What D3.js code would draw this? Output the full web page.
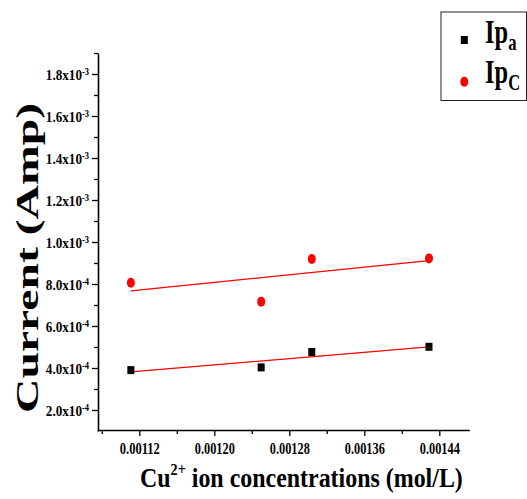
<!DOCTYPE html>
<html><head><meta charset="utf-8">
<script src="https://cdn.jsdelivr.net/npm/d3@7"></script>
<style>html,body{margin:0;padding:0;background:#fff;}svg{display:block;}</style>
</head><body>
<svg id="chart" width="527" height="499"></svg>
<script>
// ---- data ----
const concentrations = [0.001111, 0.00125, 0.001304, 0.001429];
const ipa = [3.90e-4, 4.03e-4, 4.76e-4, 5.01e-4];
const ipc = [8.06e-4, 7.16e-4, 9.19e-4, 9.22e-4];
const xTickValues = [0.00112, 0.00120, 0.00128, 0.00136, 0.00144];
const xTickLabels = ["0.00112", "0.00120", "0.00128", "0.00136", "0.00144"];
const xMinorValues = [0.00108, 0.00116, 0.00124, 0.00132, 0.00140];
const yTickValues = [2e-4, 4e-4, 6e-4, 8e-4, 1.0e-3, 1.2e-3, 1.4e-3, 1.6e-3, 1.8e-3];
const yTickMantissa = ["2.0", "4.0", "6.0", "8.0", "1.0", "1.2", "1.4", "1.6", "1.8"];
const yTickExponent = ["-4", "-4", "-4", "-4", "-3", "-3", "-3", "-3", "-3"];
const yMinorValues = [3e-4, 5e-4, 7e-4, 9e-4, 1.1e-3, 1.3e-3, 1.5e-3, 1.7e-3, 1.9e-3];
const seriesNames = [{main: "Ip", sub: "a"}, {main: "Ip", sub: "C"}];

const svg = d3.select("#chart");
const font = "'Liberation Serif','Times New Roman',serif";

const x = d3.scaleLinear().domain([0.001075, 0.001472]).range([97.1, 469.3]);
const y = d3.scaleLinear().domain([1e-4, 1.9e-3]).range([431, 53]);
const axisX = 98, axisY = 430;

// minor ticks
svg.append("g").attr("transform", `translate(0,${axisY})`)
  .call(d3.axisBottom(x).tickValues(xMinorValues).tickSize(4).tickFormat(""))
  .call(g => g.select(".domain").remove())
  .selectAll("line").attr("stroke", "#000").attr("stroke-width", 1.3);
svg.append("g").attr("transform", `translate(${axisX},0)`)
  .call(d3.axisLeft(y).tickValues(yMinorValues).tickSize(4).tickFormat(""))
  .call(g => g.select(".domain").remove())
  .selectAll("line").attr("stroke", "#000").attr("stroke-width", 1.3);

// x axis
const gx = svg.append("g").attr("transform", `translate(0,${axisY})`)
  .call(d3.axisBottom(x).tickValues(xTickValues).tickSize(6).tickSizeOuter(0).tickPadding(6)
    .tickFormat((d, i) => xTickLabels[i]));
gx.select(".domain").attr("stroke", "#000").attr("stroke-width", 1.6);
gx.selectAll(".tick line").attr("stroke", "#000").attr("stroke-width", 1.3);
gx.selectAll(".tick text").attr("fill", "#000")
  .attr("font-family", font).attr("font-weight", "bold").attr("font-size", 17)
  .attr("textLength", 40).attr("lengthAdjust", "spacingAndGlyphs");

// y axis
const gy = svg.append("g").attr("transform", `translate(${axisX},0)`)
  .call(d3.axisLeft(y).tickValues(yTickValues).tickSize(6).tickSizeOuter(0).tickPadding(3)
    .tickFormat(""));
gy.select(".domain").attr("stroke", "#000").attr("stroke-width", 1.6);
gy.selectAll(".tick line").attr("stroke", "#000").attr("stroke-width", 1.3);
gy.selectAll(".tick text").each(function(d, i) {
  const t = d3.select(this).attr("fill", "#000").attr("font-family", font)
    .attr("font-weight", "bold").attr("font-size", 15.5).attr("dy", "0.35em")
    .attr("x", -10.5).attr("transform", "scale(0.85,1)");
  t.text(null);
  t.append("tspan").text(yTickMantissa[i] + "x10");
  t.append("tspan").attr("font-size", 10).attr("dy", -5).text(yTickExponent[i]);
});

// fit lines (least squares)
function fit(xs, ys) {
  const mx = d3.mean(xs), my = d3.mean(ys);
  const sxy = d3.sum(xs, (v, i) => (v - mx) * (ys[i] - my));
  const sxx = d3.sum(xs, v => (v - mx) * (v - mx));
  const b = sxy / sxx, a = my - b * mx;
  const x0 = d3.min(xs), x1 = d3.max(xs);
  return [[x0, a + b * x0], [x1, a + b * x1]];
}
const line = d3.line().x(d => x(d[0])).y(d => y(d[1]));
[ipc, ipa].forEach(s => {
  svg.append("path").attr("d", line(fit(concentrations, s)))
    .attr("fill", "none").attr("stroke", "#ff0000").attr("stroke-width", 1.3);
});

// markers
svg.append("g").selectAll("rect").data(concentrations).join("rect")
  .attr("x", d => x(d) - 3.5).attr("y", (d, i) => y(ipa[i]) - 4)
  .attr("width", 7).attr("height", 8).attr("fill", "#000");
svg.append("g").selectAll("ellipse").data(concentrations).join("ellipse")
  .attr("cx", d => x(d)).attr("cy", (d, i) => y(ipc[i]))
  .attr("rx", 4).attr("ry", 5).attr("fill", "#ff0000");

// helper to squeeze text horizontally
function squeeze(t, px, py, sx) {
  t.attr("transform", `translate(${px},${py}) scale(${sx},1)`);
}

// x title
const xt = svg.append("text").attr("font-family", font).attr("font-weight", "bold")
  .attr("font-size", 27).attr("fill", "#000");
xt.append("tspan").text("Cu");
xt.append("tspan").attr("font-size", 16).attr("dy", -12).text("2+");
xt.append("tspan").attr("dy", 12).text(" ion concentrations (mol/L)");
const xtw = xt.node().getComputedTextLength();
squeeze(xt, 140, 487, 323 / xtw);

// y title
svg.append("text").attr("font-family", font).attr("font-weight", "bold").attr("font-size", 32)
  .attr("fill", "#000").attr("text-anchor", "middle")
  .attr("transform", "translate(38,258) rotate(-90)")
  .attr("textLength", 310).attr("lengthAdjust", "spacingAndGlyphs")
  .text("Current (Amp)");

// legend
svg.append("rect").attr("x", 441).attr("y", 12).attr("width", 85.5).attr("height", 88.5)
  .attr("fill", "#fff").attr("stroke", "#222").attr("stroke-width", 1);
svg.append("rect").attr("x", 460.8).attr("y", 36).attr("width", 7).attr("height", 8).attr("fill", "#000");
svg.append("ellipse").attr("cx", 464.3).attr("cy", 81.7).attr("rx", 4).attr("ry", 5).attr("fill", "#ff0000");
[43.3, 83.3].forEach((by, i) => {
  const t = svg.append("text").attr("font-family", font).attr("font-weight", "bold")
    .attr("font-size", 34).attr("fill", "#000");
  t.append("tspan").text(seriesNames[i].main);
  t.append("tspan").attr("font-size", 23).attr("dy", 7).text(seriesNames[i].sub);
  squeeze(t, 485, by, 0.72);
});
</script>
</body></html>
